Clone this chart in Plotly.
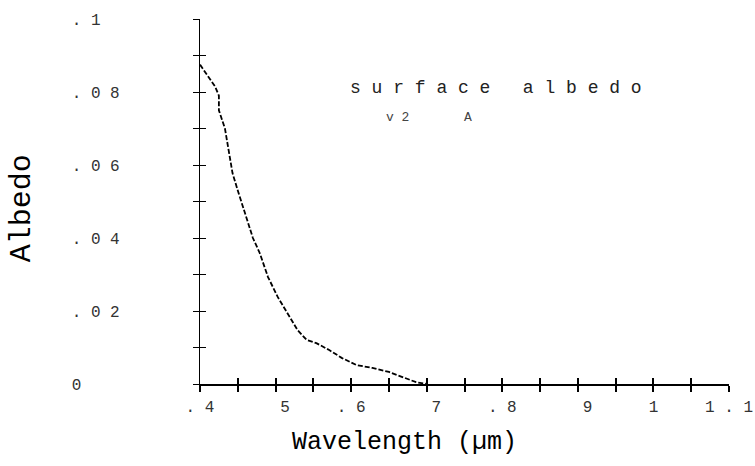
import plotly.graph_objects as go

NB = "\u00a0"

# Data
wavelength = [0.400, 0.405, 0.412, 0.420, 0.425, 0.425, 0.433, 0.437, 0.440, 0.443,
              0.450, 0.457, 0.463, 0.470, 0.479, 0.490, 0.503, 0.518, 0.529, 0.541,
              0.554, 0.571, 0.588, 0.607, 0.628, 0.650, 0.667, 0.686, 0.700]
albedo = [0.0875, 0.0860, 0.0840, 0.0815, 0.0790, 0.0750, 0.0700, 0.0650, 0.0614, 0.0578,
          0.0530, 0.0485, 0.0440, 0.0400, 0.0359, 0.0293, 0.0238, 0.0184, 0.0148, 0.0121,
          0.0112, 0.0093, 0.0071, 0.0052, 0.0044, 0.0033, 0.0019, 0.0005, 0.0000]

x_tickvals = [0.4, 0.5, 0.6, 0.7, 0.8, 0.9, 1.0, 1.1]
x_ticktext = [". 4", "  5", ". 6", "  7", ". 8", "  9", "1", "1 . 1"]
y_tickvals = [0, 0.02, 0.04, 0.06, 0.08, 0.1]
y_ticktext = ["0    ", ". 0 2", ". 0 4", ". 0 6", ". 0 8", ". 1  "]

x_ticktext = [t.replace(" ", NB) for t in x_ticktext]
y_ticktext = [t.replace(" ", NB) for t in y_ticktext]

tickfont = dict(family="Liberation Mono", size=16, color="#333333")

fig = go.Figure()
fig.add_trace(go.Scatter(
    x=wavelength, y=albedo, mode="lines",
    line=dict(color="black", width=1.8, dash="5px,2px"),
    showlegend=False, hoverinfo="skip"))
fig.add_trace(go.Scatter(x=[], y=[], xaxis="x2", yaxis="y2", showlegend=False))

fig.update_layout(
    width=755, height=466,
    margin=dict(l=200, r=26, t=19, b=82),
    paper_bgcolor="white", plot_bgcolor="white",
    xaxis=dict(range=[0.4, 1.1], tickvals=x_tickvals, ticktext=x_ticktext,
               ticks="outside", ticklen=6, tickwidth=1.5, tickcolor="black",
               minor=dict(dtick=0.05, tick0=0.4, ticks="outside", ticklen=6, tickwidth=1.5, tickcolor="black"),
               showline=True, linecolor="black", linewidth=1.5, automargin=False,
               ticklabeloverflow="allow",
               showgrid=False, zeroline=False, tickfont=tickfont, ticklabelstandoff=1),
    xaxis2=dict(range=[0.4, 1.1], overlaying="x", anchor="y", dtick=0.05, tick0=0.4,
                ticks="inside", ticklen=6, tickwidth=1.5, tickcolor="black", automargin=False,
                showticklabels=False, showline=False, showgrid=False, zeroline=False),
    yaxis=dict(range=[0, 0.1], tickvals=y_tickvals, ticktext=y_ticktext,
               ticks="outside", ticklen=6, tickwidth=1.2, tickcolor="black",
               minor=dict(dtick=0.01, tick0=0, ticks="outside", ticklen=6, tickwidth=1.2, tickcolor="black"),
               showline=True, linecolor="black", linewidth=1.2, automargin=False,
               ticklabeloverflow="allow",
               showgrid=False, zeroline=False, tickfont=tickfont, ticklabelstandoff=70),
    yaxis2=dict(range=[0, 0.1], overlaying="y", anchor="x", dtick=0.01, tick0=0,
                ticks="inside", ticklen=6, tickwidth=1.2, tickcolor="black", automargin=False,
                showticklabels=False, showline=False, showgrid=False, zeroline=False),
    annotations=[
        dict(text="Wavelength (µm)", xref="paper", yref="paper", x=0.387, y=-0.159,
             xanchor="center", yanchor="middle", showarrow=False,
             font=dict(family="Liberation Mono", size=25, color="black")),
        dict(text="Albedo", xref="paper", yref="paper", x=-0.336, y=0.482,
             xanchor="center", yanchor="middle", showarrow=False, textangle=-90,
             font=dict(family="Liberation Mono", size=30, color="black")),
        dict(text=NB.join("surface") + NB * 3 + NB.join("albedo"), xref="paper", yref="paper",
             x=0.279, y=0.811, xanchor="left", yanchor="middle", showarrow=False,
             font=dict(family="Liberation Mono", size=18, color="#222222")),
        dict(text="v" + NB + "2" + NB * 7 + "A", xref="paper", yref="paper",
             x=0.347, y=0.73, xanchor="left", yanchor="middle", showarrow=False,
             font=dict(family="Liberation Mono", size=13, color="#444444")),
    ],
)

fig.write_html("out.html", config={"displayModeBar": False},
               post_script="document.body.style.margin='0';")
